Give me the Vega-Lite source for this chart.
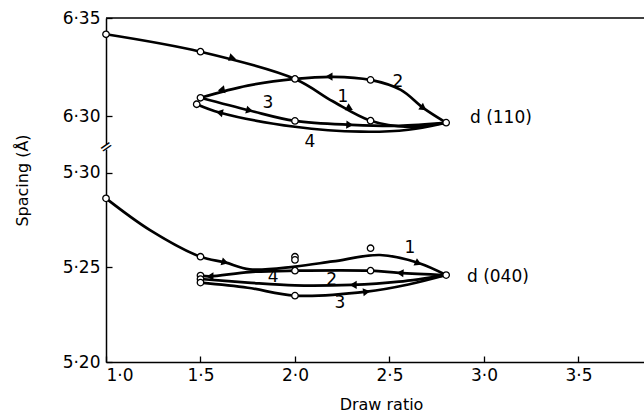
{
  "$schema": "https://vega.github.io/schema/vega-lite/v6.json",
  "width": 538,
  "height": 344,
  "autosize": {"type": "none"},
  "padding": {"left": 106, "top": 18, "right": 0, "bottom": 54},
  "background": "white",
  "config": {
    "view": {"stroke": null},
    "font": "DejaVu Sans",
    "axis": {
      "domainColor": "black",
      "domainWidth": 1.5,
      "tickColor": "black",
      "tickWidth": 1.3,
      "tickSize": -6,
      "grid": false,
      "zindex": 0,
      "labelFont": "DejaVu Sans",
      "labelFontSize": 17,
      "labelColor": "black",
      "titleFont": "DejaVu Sans",
      "titleFontSize": 16,
      "titleFontWeight": "normal",
      "titleColor": "black"
    },
    "text": {"font": "DejaVu Sans", "fontSize": 17, "color": "black"}
  },
  "datasets": {
    "upperCurves": [
      {"curve": "U0", "seq": 1, "ratio": 1.0, "spacing": 6.3417},
      {"curve": "U0", "seq": 2, "ratio": 1.5, "spacing": 6.3328},
      {"curve": "U0", "seq": 3, "ratio": 2.0, "spacing": 6.3189},
      {"curve": "U0", "seq": 4, "ratio": 2.2, "spacing": 6.3075},
      {"curve": "U0", "seq": 5, "ratio": 2.4, "spacing": 6.2976},
      {"curve": "U0", "seq": 6, "ratio": 2.6, "spacing": 6.2945},
      {"curve": "U0", "seq": 7, "ratio": 2.8, "spacing": 6.2966},
      {"curve": "U2", "seq": 1, "ratio": 2.8, "spacing": 6.2966},
      {"curve": "U2", "seq": 2, "ratio": 2.68, "spacing": 6.304},
      {"curve": "U2", "seq": 3, "ratio": 2.56, "spacing": 6.3133},
      {"curve": "U2", "seq": 4, "ratio": 2.4, "spacing": 6.3184},
      {"curve": "U2", "seq": 5, "ratio": 2.2, "spacing": 6.32},
      {"curve": "U2", "seq": 6, "ratio": 2.0, "spacing": 6.3189},
      {"curve": "U2", "seq": 7, "ratio": 1.75, "spacing": 6.3155},
      {"curve": "U2", "seq": 8, "ratio": 1.5, "spacing": 6.3093},
      {"curve": "U3", "seq": 1, "ratio": 1.5, "spacing": 6.3093},
      {"curve": "U3", "seq": 2, "ratio": 1.76, "spacing": 6.3028},
      {"curve": "U3", "seq": 3, "ratio": 2.0, "spacing": 6.2975},
      {"curve": "U3", "seq": 4, "ratio": 2.3, "spacing": 6.2955},
      {"curve": "U3", "seq": 5, "ratio": 2.55, "spacing": 6.295},
      {"curve": "U3", "seq": 6, "ratio": 2.8, "spacing": 6.2966},
      {"curve": "U4", "seq": 1, "ratio": 2.8, "spacing": 6.2966},
      {"curve": "U4", "seq": 2, "ratio": 2.6, "spacing": 6.293},
      {"curve": "U4", "seq": 3, "ratio": 2.35, "spacing": 6.292},
      {"curve": "U4", "seq": 4, "ratio": 2.0, "spacing": 6.2945},
      {"curve": "U4", "seq": 5, "ratio": 1.6, "spacing": 6.3018},
      {"curve": "U4", "seq": 6, "ratio": 1.48, "spacing": 6.306}
    ],
    "upperPoints": [
      {"ratio": 1.0, "spacing": 6.3417},
      {"ratio": 1.5, "spacing": 6.3328},
      {"ratio": 2.0, "spacing": 6.3189},
      {"ratio": 2.4, "spacing": 6.3184},
      {"ratio": 2.8, "spacing": 6.2966},
      {"ratio": 1.5, "spacing": 6.3093},
      {"ratio": 1.48, "spacing": 6.306},
      {"ratio": 2.0, "spacing": 6.2975},
      {"ratio": 2.4, "spacing": 6.2976}
    ],
    "upperArrows": [
      {"ratio": 1.67, "spacing": 6.3296, "heading": 16},
      {"ratio": 2.29, "spacing": 6.3039, "heading": 28},
      {"ratio": 2.68, "spacing": 6.304, "heading": 35},
      {"ratio": 2.18, "spacing": 6.3201, "heading": 180},
      {"ratio": 1.61, "spacing": 6.3133, "heading": 169},
      {"ratio": 1.76, "spacing": 6.3028, "heading": 14},
      {"ratio": 2.29, "spacing": 6.2955, "heading": 3},
      {"ratio": 1.6, "spacing": 6.3018, "heading": 193}
    ],
    "upperLabels": [
      {"ratio": 2.254, "spacing": 6.3097, "label": "1"},
      {"ratio": 2.545, "spacing": 6.3173, "label": "2"},
      {"ratio": 1.857, "spacing": 6.3066, "label": "3"},
      {"ratio": 2.079, "spacing": 6.2869, "label": "4"}
    ],
    "lowerCurves": [
      {"curve": "L0", "seq": 1, "ratio": 1.0, "spacing": 5.2866},
      {"curve": "L0", "seq": 2, "ratio": 1.233, "spacing": 5.2698},
      {"curve": "L0", "seq": 3, "ratio": 1.5, "spacing": 5.2557},
      {"curve": "L0", "seq": 4, "ratio": 1.63, "spacing": 5.2527},
      {"curve": "L0", "seq": 5, "ratio": 1.76, "spacing": 5.249},
      {"curve": "L0", "seq": 6, "ratio": 2.0, "spacing": 5.2505},
      {"curve": "L0", "seq": 7, "ratio": 2.2, "spacing": 5.2532},
      {"curve": "L0", "seq": 8, "ratio": 2.45, "spacing": 5.2566},
      {"curve": "L0", "seq": 9, "ratio": 2.65, "spacing": 5.2525},
      {"curve": "L0", "seq": 10, "ratio": 2.8, "spacing": 5.246},
      {"curve": "L4", "seq": 1, "ratio": 2.8, "spacing": 5.246},
      {"curve": "L4", "seq": 2, "ratio": 2.55, "spacing": 5.2472},
      {"curve": "L4", "seq": 3, "ratio": 2.4, "spacing": 5.2483},
      {"curve": "L4", "seq": 4, "ratio": 2.0, "spacing": 5.2483},
      {"curve": "L4", "seq": 5, "ratio": 1.76, "spacing": 5.2476},
      {"curve": "L4", "seq": 6, "ratio": 1.55, "spacing": 5.2453},
      {"curve": "L4", "seq": 7, "ratio": 1.5, "spacing": 5.2457},
      {"curve": "L2", "seq": 1, "ratio": 2.8, "spacing": 5.246},
      {"curve": "L2", "seq": 2, "ratio": 2.55, "spacing": 5.2425},
      {"curve": "L2", "seq": 3, "ratio": 2.3, "spacing": 5.2408},
      {"curve": "L2", "seq": 4, "ratio": 2.0, "spacing": 5.2405},
      {"curve": "L2", "seq": 5, "ratio": 1.75, "spacing": 5.242},
      {"curve": "L2", "seq": 6, "ratio": 1.5, "spacing": 5.2439},
      {"curve": "L3", "seq": 1, "ratio": 1.5, "spacing": 5.242},
      {"curve": "L3", "seq": 2, "ratio": 1.75, "spacing": 5.2393},
      {"curve": "L3", "seq": 3, "ratio": 2.0, "spacing": 5.2351},
      {"curve": "L3", "seq": 4, "ratio": 2.38, "spacing": 5.2372},
      {"curve": "L3", "seq": 5, "ratio": 2.6, "spacing": 5.241},
      {"curve": "L3", "seq": 6, "ratio": 2.8, "spacing": 5.246}
    ],
    "lowerPoints": [
      {"ratio": 1.0, "spacing": 5.2866},
      {"ratio": 1.5, "spacing": 5.2557},
      {"ratio": 2.0, "spacing": 5.2557},
      {"ratio": 2.0, "spacing": 5.254},
      {"ratio": 2.0, "spacing": 5.2483},
      {"ratio": 2.4, "spacing": 5.2602},
      {"ratio": 2.4, "spacing": 5.2483},
      {"ratio": 2.8, "spacing": 5.246},
      {"ratio": 1.5, "spacing": 5.2457},
      {"ratio": 1.5, "spacing": 5.2439},
      {"ratio": 1.5, "spacing": 5.242},
      {"ratio": 2.0, "spacing": 5.2351}
    ],
    "lowerArrows": [
      {"ratio": 1.63, "spacing": 5.2527, "heading": 16},
      {"ratio": 2.653, "spacing": 5.2522, "heading": 25},
      {"ratio": 2.556, "spacing": 5.2471, "heading": 184},
      {"ratio": 2.308, "spacing": 5.2408, "heading": 180},
      {"ratio": 2.379, "spacing": 5.2372, "heading": -8},
      {"ratio": 1.55, "spacing": 5.2453, "heading": 180}
    ],
    "lowerLabels": [
      {"ratio": 2.608, "spacing": 5.2602, "label": "1"},
      {"ratio": 2.194, "spacing": 5.2434, "label": "2"},
      {"ratio": 2.238, "spacing": 5.2312, "label": "3"},
      {"ratio": 1.885, "spacing": 5.2451, "label": "4"}
    ],
    "planeLabels": [
      {"ratio": 2.926, "spacing": 6.299, "label": "d (110)"}
    ],
    "planeLabelsLow": [
      {"ratio": 2.91, "spacing": 5.2452, "label": "d (040)"}
    ],
    "frameTop": [
      {"spacing": 6.35}
    ],
    "axisBreak": [
      {"ratio": 1.0, "spacing": 5.3138, "from": 5.3124, "to": 5.3152}
    ]
  },
  "resolve": {"scale": {"y": "independent"}},
  "layer": [
    {
      "layer": [
        {
          "data": {"name": "upperCurves"},
          "mark": {"type": "line", "interpolate": "catmull-rom", "stroke": "black", "strokeWidth": 2.7},
          "encoding": {
            "x": {"field": "ratio", "type": "quantitative", "title": "Draw ratio",
                  "scale": {"domain": [1.0, 3.847], "nice": false, "zero": false},
                  "axis": {"values": [1.0, 1.5, 2.0, 2.5, 3.0, 3.5], "labelExpr": "replace(format(datum.value, '.1f'), '.', '·')",
                           "labelPadding": 11, "titleX": 275, "titleY": 42, "titleBaseline": "middle", "titleAnchor": "start", "titleAlign": "center"}},
            "y": {"field": "spacing", "type": "quantitative", "title": null,
                  "scale": {"domain": [6.1745, 6.35], "nice": false, "zero": false},
                  "axis": {"orient": "left", "values": [6.30, 6.35], "domain": false, "labelExpr": "replace(format(datum.value, '.2f'), '.', '·')", "labelPadding": 12}},
            "detail": {"field": "curve"},
            "order": {"field": "seq"}
          }
        },
        {
          "data": {"name": "upperArrows"},
          "mark": {"type": "point", "shape": "triangle-right", "filled": true, "color": "black", "size": 65, "opacity": 1},
          "encoding": {
            "x": {"field": "ratio", "type": "quantitative"},
            "y": {"field": "spacing", "type": "quantitative", "title": null},
            "angle": {"field": "heading", "type": "quantitative", "scale": null}
          }
        },
        {
          "data": {"name": "upperPoints"},
          "mark": {"type": "point", "shape": "circle", "filled": true, "fill": "white", "stroke": "black", "strokeWidth": 1.3, "size": 42, "opacity": 1},
          "encoding": {
            "x": {"field": "ratio", "type": "quantitative"},
            "y": {"field": "spacing", "type": "quantitative", "title": null}
          }
        },
        {
          "data": {"name": "upperLabels"},
          "mark": {"type": "text", "align": "center", "baseline": "middle"},
          "encoding": {
            "x": {"field": "ratio", "type": "quantitative"},
            "y": {"field": "spacing", "type": "quantitative", "title": null},
            "text": {"field": "label"}
          }
        },
        {
          "data": {"name": "planeLabels"},
          "mark": {"type": "text", "align": "left", "baseline": "middle"},
          "encoding": {
            "x": {"field": "ratio", "type": "quantitative"},
            "y": {"field": "spacing", "type": "quantitative", "title": null},
            "text": {"field": "label"}
          }
        },
        {
          "data": {"name": "frameTop"},
          "mark": {"type": "rule", "color": "black", "strokeWidth": 1.5},
          "encoding": {"y": {"field": "spacing", "type": "quantitative", "title": null}}
        }
      ]
    },
    {
      "layer": [
        {
          "data": {"name": "lowerCurves"},
          "mark": {"type": "line", "interpolate": "catmull-rom", "stroke": "black", "strokeWidth": 2.7},
          "encoding": {
            "x": {"field": "ratio", "type": "quantitative"},
            "y": {"field": "spacing", "type": "quantitative", "title": "Spacing (Å)",
                  "scale": {"domain": [5.2, 5.382], "nice": false, "zero": false},
                  "axis": {"orient": "left", "values": [5.20, 5.25, 5.30], "labelExpr": "replace(format(datum.value, '.2f'), '.', '·')", "labelPadding": 12,
                           "titleX": -84, "titleY": 162, "titleBaseline": "middle", "titleAlign": "center"}},
            "detail": {"field": "curve"},
            "order": {"field": "seq"}
          }
        },
        {
          "data": {"name": "lowerArrows"},
          "mark": {"type": "point", "shape": "triangle-right", "filled": true, "color": "black", "size": 65, "opacity": 1},
          "encoding": {
            "x": {"field": "ratio", "type": "quantitative"},
            "y": {"field": "spacing", "type": "quantitative", "title": "Spacing (Å)"},
            "angle": {"field": "heading", "type": "quantitative", "scale": null}
          }
        },
        {
          "data": {"name": "lowerPoints"},
          "mark": {"type": "point", "shape": "circle", "filled": true, "fill": "white", "stroke": "black", "strokeWidth": 1.3, "size": 42, "opacity": 1},
          "encoding": {
            "x": {"field": "ratio", "type": "quantitative"},
            "y": {"field": "spacing", "type": "quantitative", "title": "Spacing (Å)"}
          }
        },
        {
          "data": {"name": "lowerLabels"},
          "mark": {"type": "text", "align": "center", "baseline": "middle"},
          "encoding": {
            "x": {"field": "ratio", "type": "quantitative"},
            "y": {"field": "spacing", "type": "quantitative", "title": "Spacing (Å)"},
            "text": {"field": "label"}
          }
        },
        {
          "data": {"name": "planeLabelsLow"},
          "mark": {"type": "text", "align": "left", "baseline": "middle"},
          "encoding": {
            "x": {"field": "ratio", "type": "quantitative"},
            "y": {"field": "spacing", "type": "quantitative", "title": "Spacing (Å)"},
            "text": {"field": "label"}
          }
        },
        {
          "data": {"name": "axisBreak"},
          "mark": {"type": "rule", "color": "white", "strokeWidth": 5},
          "encoding": {
            "x": {"field": "ratio", "type": "quantitative"},
            "y": {"field": "from", "type": "quantitative", "title": "Spacing (Å)"},
            "y2": {"field": "to"}
          }
        },
        {
          "data": {"name": "axisBreak"},
          "mark": {"type": "text", "text": "=", "fontSize": 16, "angle": -35, "align": "center", "baseline": "middle"},
          "encoding": {
            "x": {"field": "ratio", "type": "quantitative"},
            "y": {"field": "spacing", "type": "quantitative", "title": "Spacing (Å)"}
          }
        }
      ]
    }
  ]
}
